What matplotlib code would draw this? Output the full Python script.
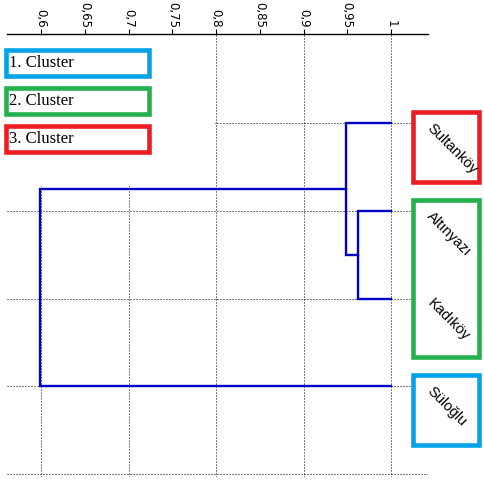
import matplotlib.pyplot as plt
from matplotlib.patches import Rectangle
from matplotlib.ticker import MultipleLocator, FuncFormatter

# leaves from top to bottom
leaves = ['Sultanköy', 'Altınyazı', 'Kadıköy', 'Süloğlu']
leaf_height = 1.0
# merges: (left, right, similarity); ints = leaves, 'cN' = earlier merge N
merges = [(1, 2, 0.962), (0, 'c0', 0.949), ('c1', 3, 0.599)]
# cluster of each leaf
leaf_cluster = [3, 2, 2, 1]
cluster_names = ['1. Cluster', '2. Cluster', '3. Cluster']
cluster_colors = {1: '#00A2E8', 2: '#22B14C', 3: '#ED1C24'}
line_color = '#0000C8'

W, H = 485, 484
fig = plt.figure(figsize=(W / 100, H / 100), dpi=100)
ax = fig.add_axes([7 / W, 1 - 477 / H, (428 - 7) / W, (477 - 34) / H])

# ------------------------------
# dendrogram links
# ------------------------------
pos = {}    # node -> (y, x)
for i in range(len(leaves)):
    pos[i] = (i, leaf_height)
for k, (a, b, h) in enumerate(merges):
    ya, xa = pos[a]
    yb, xb = pos[b]
    ax.plot([xa, h, h, xb], [ya, ya, yb, yb], color=line_color, lw=1.7,
            solid_joinstyle='miter', zorder=3)
    pos['c%d' % k] = ((ya + yb) / 2, h)

ax.set_xlim(0.5611, 1.0423)
ax.set_ylim(4.03, -1.011)

# ------------------------------
# axes / ticks / grid
# ------------------------------
for s in ['left', 'right', 'bottom']:
    ax.spines[s].set_visible(False)
ax.spines['top'].set_linewidth(1.0)
ax.xaxis.set_major_locator(MultipleLocator(0.1))
ax.xaxis.set_minor_locator(MultipleLocator(0.05))
fmt = FuncFormatter(lambda v, p: ('%g' % round(v, 2)).replace('.', ','))
ax.xaxis.set_major_formatter(fmt)
ax.xaxis.set_minor_formatter(fmt)
ax.xaxis.tick_top()
ax.tick_params(axis='x', which='both', direction='out', length=3.5, width=0.8,
               pad=1, labelsize=8.5, labelrotation=-90, top=True, bottom=False,
               labeltop=True, labelbottom=False)
ax.set_yticks(range(len(leaves) + 1))
ax.tick_params(axis='y', left=False, labelleft=False)
ax.grid(True, which='major', color='black', lw=0.72, ls=(0, (1, 2)))

# ------------------------------
# leaf labels and cluster boxes
# ------------------------------
for i, name in enumerate(leaves):
    ax.annotate(name, xy=(leaf_height, i), xytext=(24, 1.5),
                textcoords='offset points', rotation=-45, ha='left', va='top',
                fontsize=10.5, family='Liberation Sans', annotation_clip=False,
                zorder=5)

for c in sorted(set(leaf_cluster)):
    idx = [i for i, lc in enumerate(leaf_cluster) if lc == c]
    y0 = min(idx) - 0.125
    y1 = max(idx) + 0.67
    ax.add_patch(Rectangle((1.0251, y0), 0.0755, y1 - y0, facecolor='white',
                           edgecolor=cluster_colors[c], lw=3.3, clip_on=False,
                           zorder=4))

# legend panel (white background over the grid) and boxes, pixel layout
fig.patches.append(Rectangle((0, 1 - 186 / H), 215 / W, 150 / H,
                             transform=fig.transFigure, facecolor='white',
                             edgecolor='none'))
for j, name in enumerate(cluster_names):
    top = 50 + 38 * j
    fig.patches.append(Rectangle((6 / W, 1 - (top + 26) / H), 143 / W, 26 / H,
                                 transform=fig.transFigure, facecolor='white',
                                 edgecolor=cluster_colors[j + 1], lw=3.3))
    fig.text(9 / W, 1 - (top + 13) / H, name, ha='left', va='center',
             fontsize=12, family='Liberation Serif')

fig.savefig('out.png', dpi=100)
